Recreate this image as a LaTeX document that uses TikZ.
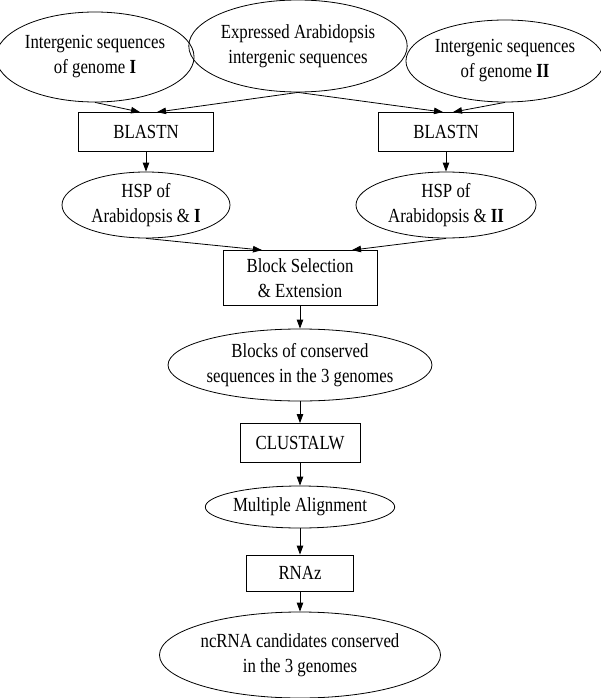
\documentclass[tikz,border=0pt]{standalone}
\usepackage{fontspec}
\setmainfont{Liberation Serif}[FakeStretch=0.84]
\usepackage{tikz}
\usetikzlibrary{shapes.geometric,arrows.meta}

\begin{document}
\begin{tikzpicture}[x=1pt,y=-1pt,line width=0.8pt,
  font=\fontsize{20}{25}\selectfont,
  oval node/.style={ellipse,draw,inner sep=0pt,align=center},
  box node/.style={rectangle,draw,inner sep=0pt,align=center},
  every edge/.style={draw,-{Triangle[length=9pt,width=6.5pt]}}]
        \useasboundingbox (0,0) rectangle (600,698);
        % sources
        \node[oval node,minimum width=190,minimum height=90] (seqI) at (95,57) {Intergenic sequences\\of genome \textbf{I}};
        \node[oval node,minimum width=206,minimum height=92] (expr) at (298,46) {Expressed Arabidopsis\\intergenic sequences};
        \node[oval node,minimum width=190,minimum height=82] (seqII) at (505,61) {Intergenic sequences\\of genome \textbf{II}};
        % blast
        \node[box node,minimum width=135,minimum height=39] (blastI) at (146,132) {BLASTN};
        \node[box node,minimum width=135,minimum height=39] (blastII) at (446,132) {BLASTN};
        \node[oval node,minimum width=168,minimum height=66] (hspI) at (146,205) {HSP of\\Arabidopsis \& \textbf{I}};
        \node[oval node,minimum width=180,minimum height=66] (hspII) at (446,205) {HSP of\\Arabidopsis \& \textbf{II}};
        % pipeline
        \node[box node,minimum width=154,minimum height=55] (sel) at (300,278) {Block Selection\\\& Extension};
        \node[oval node,minimum width=218,minimum height=72] (blocks) at (300,365) {Blocks of conserved\\sequences in the 3 genomes};
        \node[box node,minimum width=120,minimum height=39] (clw) at (300,443) {CLUSTALW};
        \node[oval node,minimum width=185,minimum height=42] (align) at (300,507) {Multiple Alignment};
        \node[box node,minimum width=107,minimum height=36] (rnaz) at (300,573) {RNAz};
        \node[oval node,minimum width=254,minimum height=86] (cand) at (300,655) {ncRNA candidates conserved\\in the 3 genomes};
        \path
          (seqI.south) edge ([xshift=-6pt]blastI.north)
          (expr.south) edge ([xshift=11pt]blastI.north)
          (expr.south) edge ([xshift=-3pt]blastII.north)
          (seqII.south) edge ([xshift=7pt]blastII.north)
          (blastI) edge (hspI)
          (blastII) edge (hspII)
          (hspI.south) edge ([xshift=-38pt]sel.north)
          (hspII.south) edge ([xshift=52pt]sel.north)
          (sel) edge (blocks)
          (blocks) edge (clw)
          (clw) edge (align)
          (align) edge (rnaz)
          (rnaz) edge (cand);
      \end{tikzpicture}
\end{document}
